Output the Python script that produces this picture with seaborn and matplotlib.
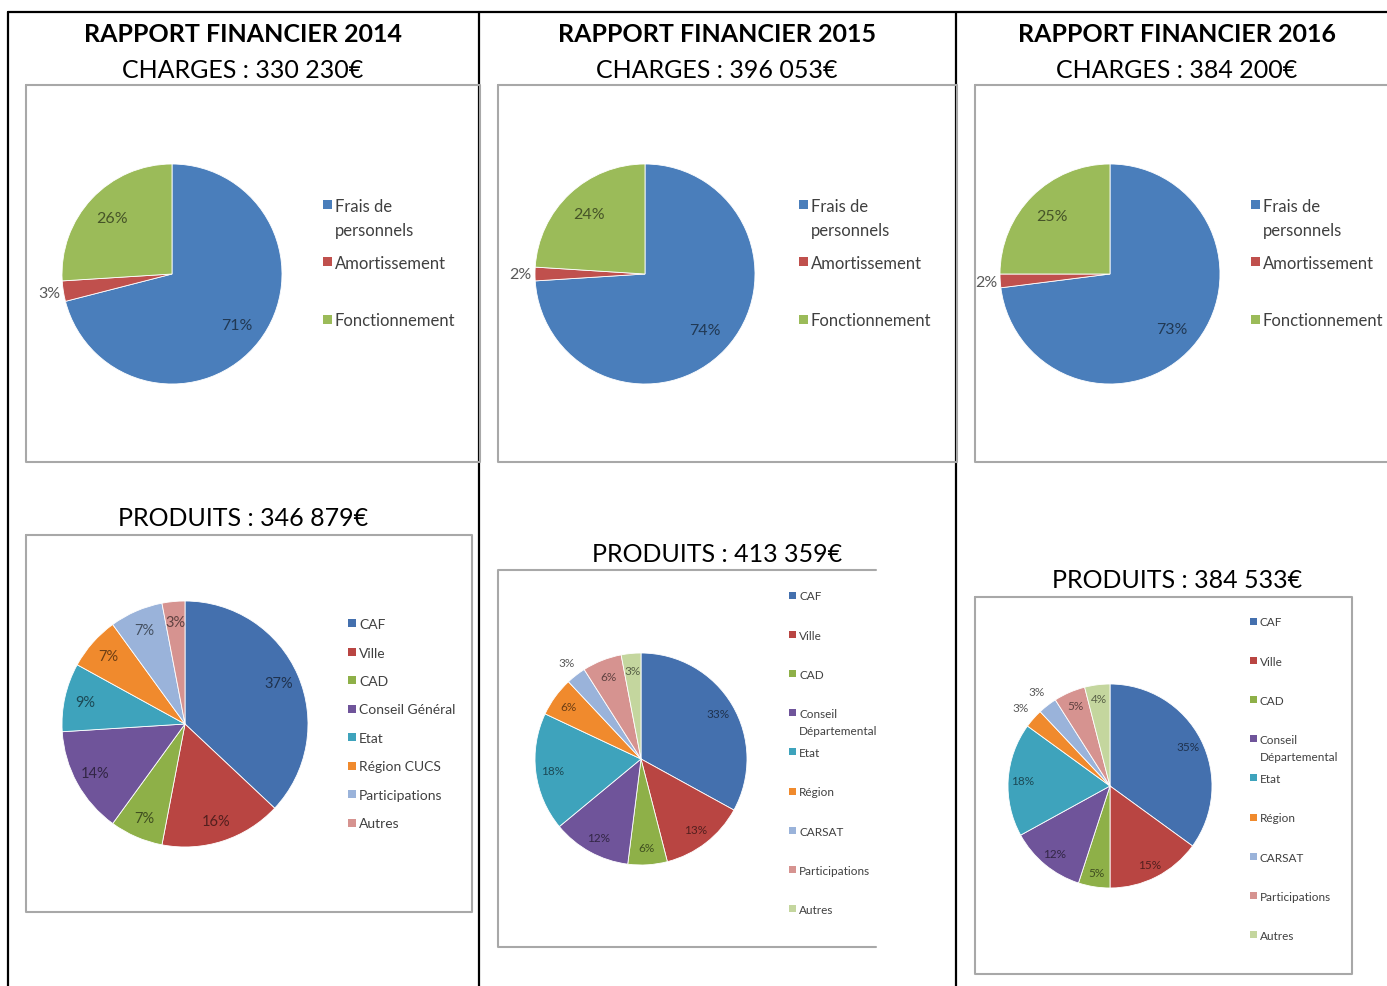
import numpy as np
import matplotlib
matplotlib.use("Agg")
import matplotlib.pyplot as plt
import matplotlib.colors as mcolors
from matplotlib.lines import Line2D
from matplotlib.patches import Rectangle
from matplotlib.transforms import Bbox
import seaborn as sns

sns.set_theme(style="white")
plt.rcParams['font.family'] = ['Lato', 'DejaVu Sans']

W, H = 1387, 987

# data
years = ["2014", "2015", "2016"]
charges_totals = ["330 230€", "396 053€", "384 200€"]
produits_totals = ["346 879€", "413 359€", "384 533€"]

charges_labels = ["Frais de\npersonnels", "Amortissement", "Fonctionnement"]
charges_2014 = [71, 3, 26]
charges_2015 = [74, 2, 24]
charges_2016 = [73, 2, 25]

produits_labels_2014 = ["CAF", "Ville", "CAD", "Conseil Général", "Etat",
                        "Région CUCS", "Participations", "Autres"]
produits_2014 = [37, 16, 7, 14, 9, 7, 7, 3]

produits_labels_2015 = ["CAF", "Ville", "CAD", "Conseil\nDépartemental", "Etat",
                        "Région", "CARSAT", "Participations", "Autres"]
produits_2015 = [33, 13, 6, 12, 18, 6, 3, 6, 3]

produits_labels_2016 = ["CAF", "Ville", "CAD", "Conseil\nDépartemental", "Etat",
                        "Région", "CARSAT", "Participations", "Autres"]
produits_2016 = [35, 15, 5, 12, 18, 3, 3, 5, 4]

# excel 2007 like palette
charges_colors = sns.color_palette(["#4a7ebb", "#c0504d", "#9bbb59"])
produits_colors = sns.color_palette(["#4470ae", "#b94542", "#8eb048", "#6f549a", "#3ea3bc",
                                     "#f08a2d", "#9ab3da", "#d69390", "#c4d69e"])


def fx(px):
    return px / W


def fy(py):
    return 1 - py / H


def darker(c, k=0.45):
    r, g, b = mcolors.to_rgb(c)
    return (r * k, g * k, b * k)


fig = plt.figure(figsize=(W / 100, H / 100), dpi=100)


def draw_pie(values, colors, cx, cy, r, fs, inside, outside_idx, outside=1.15):
    pad = 1.45
    ax = fig.add_axes([fx(cx - r * pad), fy(cy + r * pad), 2 * r * pad / W, 2 * r * pad / H])
    wedges, _ = ax.pie(values, colors=colors, startangle=90, counterclock=False, radius=1,
                       wedgeprops=dict(edgecolor='white', linewidth=0.6))
    ax.set_xlim(-pad, pad)
    ax.set_ylim(-pad, pad)
    ax.set_aspect('auto')
    ax.axis('off')
    for i, (w, v) in enumerate(zip(wedges, values)):
        ang = np.deg2rad((w.theta1 + w.theta2) / 2)
        if i in outside_idx:
            d, col = outside, '#595959'
        else:
            d, col = inside, darker(colors[i])
        ax.text(d * np.cos(ang), d * np.sin(ang), f"{v}%", ha='center', va='center',
                fontsize=fs, color=col)
    return ax


def draw_legend(labels, colors, x, y0, step, fs, sq, clip_x=None):
    line_gap = 1.45 * fs * 100 / 72
    for i, (lab, c) in enumerate(zip(labels, colors)):
        y = y0 + i * step
        fig.add_artist(Rectangle((fx(x), fy(y + sq / 2)), sq / W, sq / H,
                                 transform=fig.transFigure, color=c, lw=0))
        for k, part in enumerate(lab.split("\n")):
            t = fig.text(fx(x + sq + 3), fy(y + k * line_gap), part, ha='left',
                         va='center_baseline', fontsize=fs, color='#404040')
            if clip_x is not None:
                t.set_clip_box(Bbox([[0, 0], [clip_x, H]]))
                t.set_clip_on(True)


def box(x0, y0, x1, y1, right=True):
    xs = [x1, x0, x0, x1] if not right else [x0, x1, x1, x0, x0]
    ys = [y0, y0, y1, y1] if not right else [y0, y0, y1, y1, y0]
    fig.add_artist(Line2D([fx(v) for v in xs], [fy(v) for v in ys],
                          transform=fig.transFigure, color='#a8a8a8', lw=1.5))


# table lines
fig.add_artist(Line2D([fx(8), fx(W)], [fy(13), fy(13)], transform=fig.transFigure, color='black', lw=1.6))
for xv in [8, 479, 956]:
    fig.add_artist(Line2D([fx(xv), fx(xv)], [fy(13), fy(H)], transform=fig.transFigure, color='black', lw=1.6))

col_centers = [243, 717, 1177]
for cxp, yr, tot in zip(col_centers, years, charges_totals):
    fig.text(fx(cxp), fy(34), f"RAPPORT FINANCIER {yr}", ha='center', va='center',
             fontsize=18, fontweight='bold', color='black')
    fig.text(fx(cxp), fy(70), f"CHARGES : {tot}", ha='center', va='center',
             fontsize=18, color='black')

# charges boxes
box(26, 86, 480, 463)
box(498, 86, 957, 463)
box(975, 86, 1400, 463)

charges_values = [charges_2014, charges_2015, charges_2016]
pie_cx = [172, 645, 1110]
leg_x = [323, 799, 1251]
for vals, cxp, lx in zip(charges_values, pie_cx, leg_x):
    draw_pie(vals, charges_colors, cxp, 275, 110, 11.5, 0.75, [1], outside=1.13)
    draw_legend(charges_labels, charges_colors, lx, 205, 57.5, 12, 9)

# produits titles
for cxp, yp, tot in zip(col_centers, [519, 555, 581], produits_totals):
    fig.text(fx(cxp), fy(yp), f"PRODUITS : {tot}", ha='center', va='center',
             fontsize=18, color='black')

box(26, 536, 472, 913)
box(498, 571, 876, 948, right=False)
box(975, 598, 1352, 975)

draw_pie(produits_2014, produits_colors[:8], 185, 725, 123, 10.5, 0.83, [])
draw_legend(produits_labels_2014, produits_colors[:8], 348, 624, 28.5, 10, 8)

draw_pie(produits_2015, produits_colors, 641, 760, 106, 8.5, 0.84, [6], outside=1.15)
draw_legend(produits_labels_2015, produits_colors, 789, 596, 39.2, 8.5, 7, clip_x=876)

draw_pie(produits_2016, produits_colors, 1110, 787, 102, 8.5, 0.86, [5, 6], outside=1.17)
draw_legend(produits_labels_2016, produits_colors, 1250, 622, 39.2, 8.5, 7)

fig.savefig("out.png", dpi=100, facecolor='white')
